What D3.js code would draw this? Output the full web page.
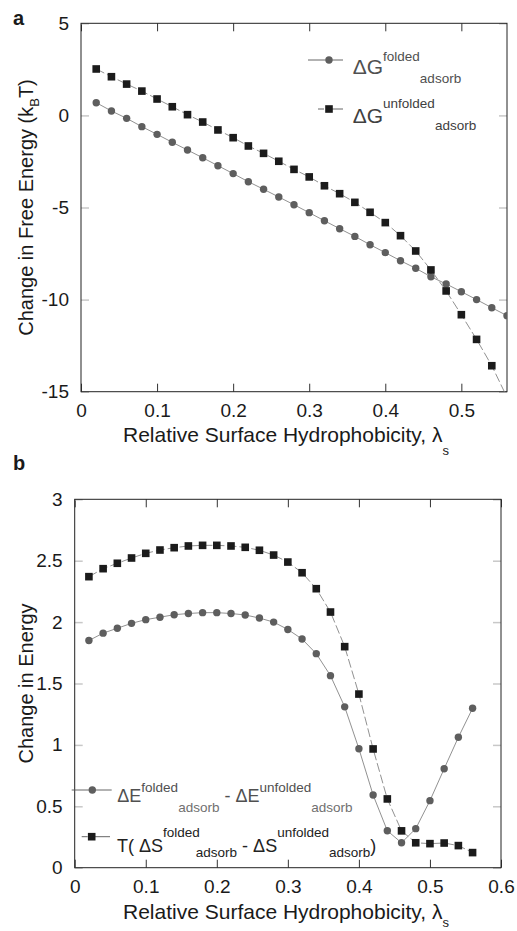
<!DOCTYPE html>
<html>
<head>
<meta charset="utf-8">
<script src="https://cdn.jsdelivr.net/npm/d3@7/dist/d3.min.js"></script>
<style>
  body { margin: 0; background: #fff; }
  svg { display: block; font-family: Arial, "Liberation Sans", sans-serif; }
  text { white-space: pre; }
</style>
</head>
<body>
<svg id="chart" width="517" height="931"></svg>
<script>
// --- data ---
const lambdaS = [0.02, 0.04, 0.06, 0.08, 0.10, 0.12, 0.14, 0.16, 0.18, 0.20,
                 0.22, 0.24, 0.26, 0.28, 0.30, 0.32, 0.34, 0.36, 0.38, 0.40,
                 0.42, 0.44, 0.46, 0.48, 0.50, 0.52, 0.54, 0.56];

// panel a: free energy of adsorption (kBT)
const dGfolded = [0.69, 0.24, -0.16, -0.61, -1.03, -1.46, -1.88, -2.30, -2.73, -3.16,
                  -3.60, -4.01, -4.43, -4.85, -5.28, -5.72, -6.15, -6.57, -7.02, -7.45,
                  -7.89, -8.30, -8.76, -9.15, -9.57, -10.00, -10.44, -10.87];
const dGunfolded = [2.52, 2.10, 1.70, 1.32, 0.89, 0.47, 0.04, -0.36, -0.79, -1.21,
                    -1.66, -2.06, -2.49, -2.93, -3.34, -3.82, -4.25, -4.72, -5.26, -5.82,
                    -6.53, -7.36, -8.39, -9.53, -10.82, -12.16, -13.59, -15.3];

// panel b: energy and entropy differences
const dEdiff = [1.85, 1.91, 1.95, 1.99, 2.02, 2.04, 2.06, 2.07, 2.077, 2.077,
                2.07, 2.058, 2.033, 2.00, 1.94, 1.862, 1.743, 1.564, 1.31, 0.969,
                0.592, 0.301, 0.203, 0.318, 0.546, 0.806, 1.062, 1.298];
const tdSdiff = [2.37, 2.435, 2.479, 2.522, 2.56, 2.587, 2.606, 2.62, 2.625, 2.625,
                 2.62, 2.609, 2.585, 2.546, 2.489, 2.402, 2.272, 2.082, 1.80, 1.414,
                 0.967, 0.56, 0.30, 0.203, 0.196, 0.201, 0.18, 0.123];

const xTicksA = [0, 0.1, 0.2, 0.3, 0.4, 0.5];
const yTicksA = [5, 0, -5, -10, -15];
const xTicksB = [0, 0.1, 0.2, 0.3, 0.4, 0.5, 0.6];
const yTicksB = [0, 0.5, 1, 1.5, 2, 2.5, 3];

const svg = d3.select("#chart");

const circleFill = "#5e5e5e";
const squareFill = "#1b1b1b";
const lineColor = "#858585";
const textColor = "#1a1a1a";
const plain = d => String(d);   // hyphen minus like the original

// --- one panel: frame, axes, series ---
function drawPanel(p) {
    const x = d3.scaleLinear().domain(p.xDomain).range([p.left, p.right]);
    const y = d3.scaleLinear().domain(p.yDomain).range([p.bottom, p.top]);
    const g = svg.append("g");

    const clipId = "clip-" + p.name;
    svg.append("clipPath").attr("id", clipId)
        .append("rect")
        .attr("x", p.left).attr("y", p.top)
        .attr("width", p.right - p.left).attr("height", p.bottom - p.top);

    // x axes (bottom with labels, top ticks only)
    const xb = g.append("g").attr("transform", `translate(0,${p.bottom})`)
        .call(d3.axisBottom(x).tickValues(p.xTicks).tickSizeInner(-8).tickSizeOuter(0)
            .tickPadding(11.5).tickFormat(plain));
    const xt = g.append("g").attr("transform", `translate(0,${p.top})`)
        .call(d3.axisTop(x).tickValues(p.xTicks).tickSizeInner(-8).tickSizeOuter(0).tickFormat(""));
    const yl = g.append("g").attr("transform", `translate(${p.left},0)`)
        .call(d3.axisLeft(y).tickValues(p.yTicks).tickSizeInner(-8).tickSizeOuter(0)
            .tickPadding(12).tickFormat(plain));
    const yr = g.append("g").attr("transform", `translate(${p.right},0)`)
        .call(d3.axisRight(y).tickValues(p.yTicks).tickSizeInner(-8).tickSizeOuter(0).tickFormat(""));

    [xb, xt, yl, yr].forEach(a => {
        a.select(".domain").remove();
        a.selectAll("text").attr("font-size", 19).attr("fill", textColor)
            .attr("font-family", "Arial, 'Liberation Sans', sans-serif");
    });
    [xb, xt].forEach(a => a.selectAll("line").attr("stroke", "#333"));
    [yl, yr].forEach(a => a.selectAll("line").attr("stroke", "#c8c8c8").attr("stroke-width", 1.5));

    g.append("rect")
        .attr("x", p.left).attr("y", p.top)
        .attr("width", p.right - p.left).attr("height", p.bottom - p.top)
        .attr("fill", "none").attr("stroke", "#222").attr("stroke-width", 1);

    const data = g.append("g").attr("clip-path", `url(#${clipId})`);
    const line = d3.line().x(d => x(d[0])).y(d => y(d[1]));

    p.series.forEach(s => {
        const pts = lambdaS.map((l, i) => [l, s.values[i]]);
        data.append("path")
            .attr("d", line(pts))
            .attr("fill", "none")
            .attr("stroke", lineColor)
            .attr("stroke-width", 0.9)
            .attr("stroke-dasharray", s.marker === "square" ? "9,3" : null);
        if (s.marker === "circle") {
            data.selectAll(null).data(pts).enter().append("circle")
                .attr("cx", d => x(d[0])).attr("cy", d => y(d[1]))
                .attr("r", 3.7).attr("fill", circleFill);
        } else {
            data.selectAll(null).data(pts).enter().append("rect")
                .attr("x", d => x(d[0]) - 3.8).attr("y", d => y(d[1]) - 3.8)
                .attr("width", 7.6).attr("height", 7.6).attr("fill", squareFill);
        }
    });

    // axis titles
    const xt2 = g.append("text")
        .attr("x", 123).attr("y", p.bottom + p.xTitleGap)
        .attr("font-size", 21).attr("fill", textColor);
    xt2.append("tspan").text("Relative Surface Hydrophobicity, \u03bb");
    xt2.append("tspan").attr("font-size", 13).attr("dy", p.subDy).text("s");

    const yt = g.append("text")
        .attr("transform", `translate(33,${(p.top + p.bottom) / 2}) rotate(-90)`)
        .attr("text-anchor", "middle").attr("font-size", 20).attr("fill", textColor);
    p.yTitle.forEach(seg => {
        yt.append("tspan").attr("font-size", seg[1]).attr("dy", seg[2]).text(seg[0]);
    });

    g.append("text").attr("x", 13).attr("y", p.labelY)
        .attr("font-size", 20).attr("font-weight", "bold").attr("fill", textColor)
        .text(p.name);

    return { x, y, g };
}

// legend entry: sample line + marker + text with super/subscripts
function legendEntry(g, e) {
    g.append("line")
        .attr("x1", e.x0).attr("x2", e.x1).attr("y1", e.my).attr("y2", e.my)
        .attr("stroke", "#555").attr("stroke-width", 0.9)
        .attr("stroke-dasharray", e.marker === "square" ? "6,5,30" : null);
    if (e.marker === "circle") {
        g.append("circle").attr("cx", e.mx).attr("cy", e.my).attr("r", 3.7).attr("fill", circleFill);
    } else {
        g.append("rect").attr("x", e.mx - 3.8).attr("y", e.my - 3.8)
            .attr("width", 7.6).attr("height", 7.6).attr("fill", squareFill);
    }
    const t = g.append("text").attr("x", e.tx).attr("y", e.ty).attr("fill", e.color);
    e.parts.forEach(seg => {
        t.append("tspan").attr("font-size", seg[1]).attr("dy", seg[2]).attr("dx", seg[3] || 0)
            .attr("fill", seg[4] || e.color).text(seg[0]);
    });
}

// --- panel a ---
const pa = drawPanel({
    name: "a", labelY: 25,
    left: 81, right: 507, top: 23.3, bottom: 391.7,
    xDomain: [0, 0.56], yDomain: [-15, 5],
    xTicks: xTicksA, yTicks: yTicksA,
    xTitleGap: 50, subDy: 13,
    yTitle: [["Change in Free Energy (k", 20, 0], ["B", 13, 6], ["T)", 20, -6]],
    series: [
        { values: dGfolded, marker: "circle" },
        { values: dGunfolded, marker: "square" }
    ]
});

legendEntry(pa.g, {
    marker: "circle", x0: 308, x1: 343, mx: 329, my: 60, tx: 352.7, ty: 74, color: "#505050",
    parts: [["\u0394G", 21, 0], ["folded", 13.5, -13.3], ["adsorb", 13.5, 22.3]]
});
legendEntry(pa.g, {
    marker: "square", x0: 318, x1: 343, mx: 329, my: 109, tx: 352.7, ty: 123, color: "#404040",
    parts: [["\u0394G", 21, 0], ["unfolded", 13.5, -15], ["adsorb", 13.5, 22]]
});

// --- panel b ---
const pb = drawPanel({
    name: "b", labelY: 470,
    left: 74.7, right: 501, top: 499.3, bottom: 867.7,
    xDomain: [0, 0.6], yDomain: [0, 3],
    xTicks: xTicksB, yTicks: yTicksB,
    xTitleGap: 51.5, subDy: 8,
    yTitle: [["Change in Energy", 20, 0]],
    series: [
        { values: dEdiff, marker: "circle" },
        { values: tdSdiff, marker: "square" }
    ]
});

legendEntry(pb.g, {
    marker: "circle", x0: 71.7, x1: 111.7, mx: 92.3, my: 790, tx: 117.3, ty: 802, color: "#505050",
    parts: [["\u0394E", 18, 0], ["folded", 13.5, -10.3], ["adsorb", 13.5, 20.3, 0, "#707070"],
            [" - \u0394E", 18, -10], ["unfolded", 13.5, -10.3], ["adsorb", 13.5, 20.3, 0, "#707070"]]
});
legendEntry(pb.g, {
    marker: "square", x0: 81.7, x1: 110, mx: 91.7, my: 836.7, tx: 117, ty: 851.7, color: "#222",
    parts: [["T( \u0394S", 18, 0], ["folded", 13.5, -15], ["adsorb", 13.5, 20.3, -4],
            [" - \u0394S", 18, -5.3], ["unfolded", 13.5, -15], ["adsorb", 13.5, 20.3],
            [")", 18, -5.3]]
});
</script>
</body>
</html>
